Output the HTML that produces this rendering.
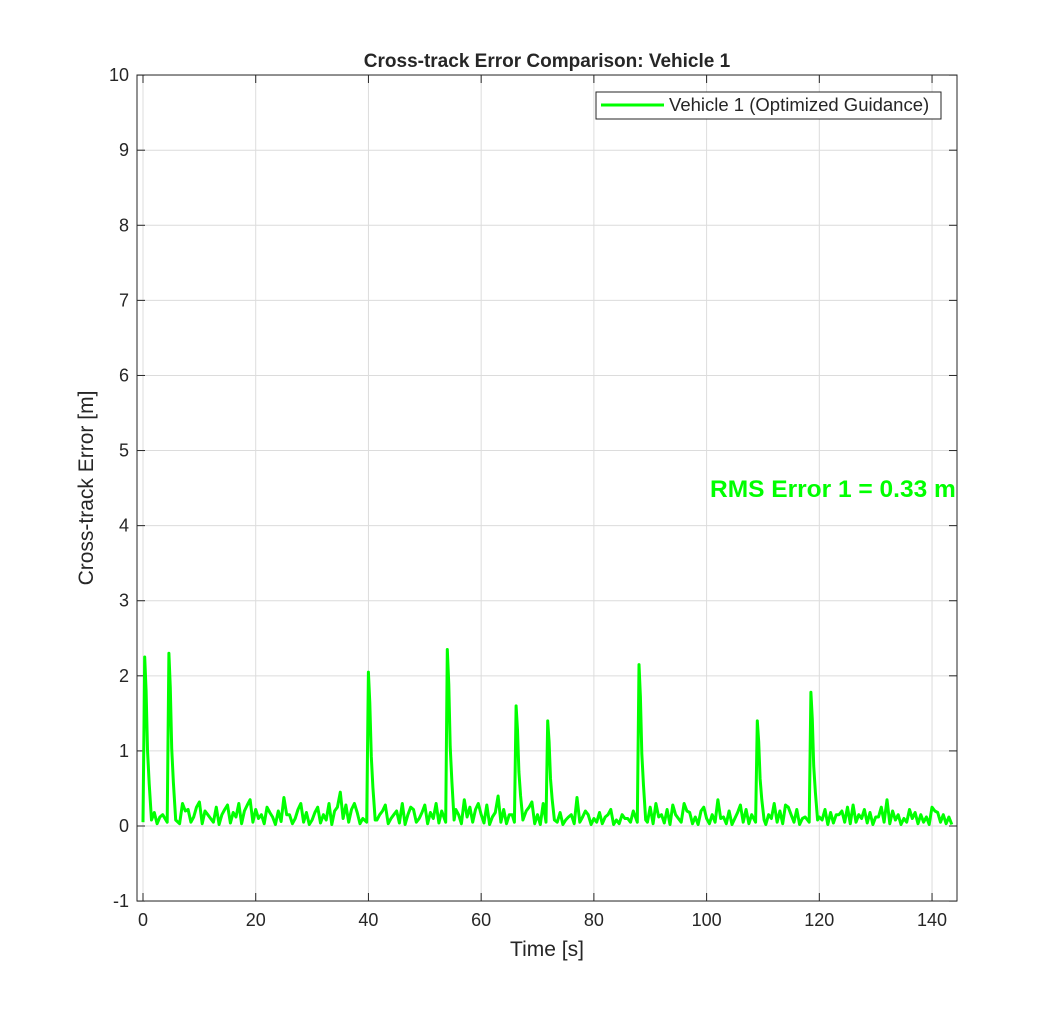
<!DOCTYPE html>
<html><head><meta charset="utf-8"><style>
body{margin:0;background:#fff;font-family:"Liberation Sans",Arial,sans-serif}
svg text{font-family:"Liberation Sans",Arial,sans-serif}
</style></head><body>
<svg id="chart" width="1057" height="1013" xmlns="http://www.w3.org/2000/svg">
<rect width="1057" height="1013" fill="#fff"/>
<g id="grid"></g>
<g id="ticks"></g>
<g id="series"></g>
<rect x="137" y="75" width="820" height="826" fill="none" stroke="#262626" stroke-width="1"/>
<text x="547" y="67" text-anchor="middle" font-size="19" font-weight="bold" fill="#262626">Cross-track Error Comparison: Vehicle 1</text>
<text x="547" y="956" text-anchor="middle" font-size="21" fill="#262626">Time [s]</text>
<text transform="translate(93,488) rotate(-90)" text-anchor="middle" font-size="21" fill="#262626">Cross-track Error [m]</text>
<text x="710" y="497" font-size="24.5" font-weight="bold" fill="#00ff00">RMS Error 1 = 0.33 m</text>
<g>
<rect x="596" y="92" width="345" height="27" fill="#fff" stroke="#262626" stroke-width="1"/>
<line x1="601" y1="105" x2="664" y2="105" stroke="#00ff00" stroke-width="3"/>
<text x="669" y="111" font-size="18.5" fill="#262626">Vehicle 1 (Optimized Guidance)</text>
</g>
</svg>
<script>
const xTicks=[0,20,40,60,80,100,120,140];
const yTicks=[-1,0,1,2,3,4,5,6,7,8,9,10];
const baseline=[0.10,0.05,0.18,0.12,0.08,0.05,0.15,0.30,0.22,0.12,0.32,0.20,0.10,0.25,0.15,0.28,0.18,0.30,0.20,0.35,0.22,0.15,0.25,0.12,0.20,0.38,0.15,0.10,0.30,0.18,0.08,0.25,0.15,0.30,0.20,0.45,0.28,0.22,0.18,0.10,0.12,0.25,0.15,0.28,0.10,0.20,0.30,0.15,0.22,0.10,0.28,0.18,0.30,0.20,0.10,0.30,0.15,0.35,0.25,0.22,0.15,0.28,0.12,0.40,0.22,0.15,0.10,0.28,0.20,0.32,0.15,0.30,0.10,0.20,0.18,0.08,0.15,0.38,0.12,0.15,0.10,0.18,0.12,0.22,0.08,0.15,0.10,0.20,0.12,0.10,0.25,0.30,0.15,0.22,0.28,0.10,0.30,0.18,0.12,0.20,0.10,0.15,0.35,0.12,0.20,0.10,0.28,0.22,0.15,0.10,0.25,0.15,0.30,0.20,0.28,0.15,0.22,0.10,0.20,0.15,0.12,0.22,0.18,0.15,0.20,0.25,0.28,0.15,0.22,0.18,0.12,0.25,0.35,0.20,0.15,0.10,0.22,0.18,0.15,0.12,0.25,0.18,0.15,0.12];
const baselineHalf=[0.02,0.20,0.03,0.15,0.02,0.10,0.03,0.20,0.05,0.25,0.03,0.15,0.05,0.02,0.22,0.04,0.12,0.03,0.28,0.05,0.10,0.03,0.18,0.02,0.06,0.15,0.03,0.22,0.05,0.02,0.18,0.04,0.08,0.02,0.25,0.10,0.05,0.30,0.03,0.05,0.02,0.08,0.20,0.03,0.15,0.04,0.02,0.25,0.05,0.18,0.03,0.10,0.04,0.15,0.05,0.22,0.03,0.12,0.05,0.30,0.04,0.02,0.18,0.05,0.03,0.15,0.02,0.06,0.25,0.03,0.02,0.10,0.03,0.05,0.02,0.12,0.03,0.05,0.20,0.02,0.05,0.03,0.15,0.02,0.03,0.10,0.05,0.02,0.15,0.05,0.03,0.12,0.04,0.02,0.15,0.05,0.20,0.03,0.02,0.25,0.03,0.05,0.10,0.03,0.02,0.18,0.05,0.03,0.20,0.04,0.02,0.10,0.05,0.03,0.25,0.05,0.02,0.12,0.04,0.05,0.08,0.02,0.04,0.15,0.05,0.03,0.05,0.10,0.04,0.02,0.12,0.05,0.03,0.08,0.02,0.05,0.10,0.03,0.05,0.02,0.20,0.05,0.03,0.02];
const spikeTimes=[0.3,4.6,40,54,66.2,71.8,88,109,118.5];
const spikePeaks=[2.25,2.3,2.05,2.35,1.6,1.4,2.15,1.4,1.78];
const X0=143,XS=5.636,Y0=826,YS=75.09;
const sx=v=>X0+v*XS, sy=v=>Y0-v*YS;
const NS="http://www.w3.org/2000/svg";
const grid=document.getElementById('grid'),ticks=document.getElementById('ticks');
function mk(tag,attrs,parent){const e=document.createElementNS(NS,tag);for(const k in attrs)e.setAttribute(k,attrs[k]);parent.appendChild(e);return e;}
xTicks.forEach(v=>{const x=sx(v);
 const g=mk('line',{x1:x,x2:x,y1:75,y2:901,stroke:'#dcdcdc','stroke-width':1},grid);
 
 
 mk('line',{x1:x,x2:x,y1:901,y2:893,stroke:'#262626'},ticks);
 mk('line',{x1:x,x2:x,y1:75,y2:83,stroke:'#262626'},ticks);
 const t=mk('text',{x:x,y:926,'text-anchor':'middle','font-size':18,fill:'#262626'},ticks);t.textContent=v;
 
 
});
yTicks.forEach(v=>{const y=sy(v);
 const g=mk('line',{x1:137,x2:957,y1:y,y2:y,stroke:'#dcdcdc','stroke-width':1},grid);
 
 
 mk('line',{x1:137,x2:145,y1:y,y2:y,stroke:'#262626'},ticks);
 mk('line',{x1:949,x2:957,y1:y,y2:y,stroke:'#262626'},ticks);
 const t=mk('text',{x:129,y:y+6,'text-anchor':'end','font-size':18,fill:'#262626'},ticks);t.textContent=v;
 
 
});
let pts=baseline.map((v,i)=>[i,v]).concat(baselineHalf.map((v,i)=>[i+0.5,v]));
pts=pts.filter(p=>!spikeTimes.some(t=>p[0]>t-0.6&&p[0]<t+1.5));
spikeTimes.forEach((t,i)=>{const p=spikePeaks[i];pts.push([t-0.3,0.05],[t,p],[t+0.25,p*0.8],[t+0.5,p*0.45],[t+0.8,p*0.25],[t+1.2,0.08]);});
pts.sort((a,b)=>a[0]-b[0]);
const d=pts.map((p,i)=>(i?'L':'M')+sx(p[0]).toFixed(1)+' '+sy(p[1]).toFixed(1)).join(' ');
const path=mk('path',{d:d,fill:'none',stroke:'#00ff00','stroke-width':3,'stroke-linejoin':'round'},document.getElementById('series'));


</script>
</body></html>
